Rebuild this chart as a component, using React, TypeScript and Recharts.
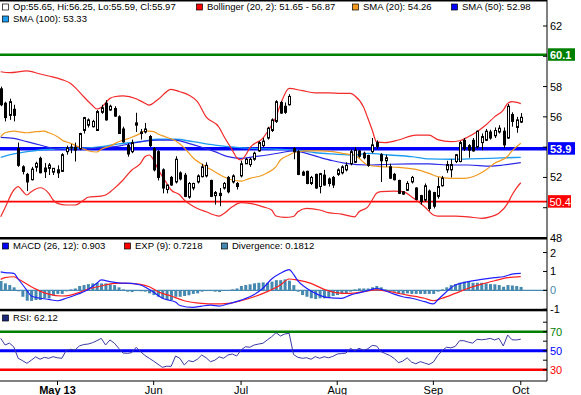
import React from 'react'
import { ComposedChart, Bar, Line, XAxis, YAxis, ReferenceLine } from 'recharts'

const FONT = '"Liberation Sans", Arial, sans-serif'
const TEAL = '#4689b0'

// index of first trading day of each month on the time axis
const monthTicks = [13, 35, 55, 77, 99, 119]
const monthLabels = ['May 13', 'Jun', 'Jul', 'Aug', 'Sep', 'Oct']

const opens = [
  57.85, 56.9, 56.1, 56.5, 53.9, 52.7, 52.2, 51.85, 52.67, 53.26,
  52.62, 52.6, 52.35, 52.5, 52.4, 53.7, 53.95, 54.0, 53.9, 55.1,
  55.45, 55.35, 55.1, 56.3, 56.9, 56.45, 56.55, 56.0, 55.2, 54.1,
  53.7, 55.45, 55.0, 55.0, 54.7, 53.9, 53.7, 52.5, 51.2, 52.0,
  51.7, 52.3, 52.15, 50.7, 51.3, 51.7, 52.05, 52.1, 51.8, 50.8,
  50.95, 51.3, 52.0, 51.7, 51.6, 52.1, 52.9, 52.85, 53.2, 53.75,
  54.1, 54.6, 55.1, 55.7, 56.95, 56.7, 56.8, 53.9, 53.7, 52.35,
  52.4, 51.6, 52.2, 51.4, 52.15, 51.9, 52.0, 52.2, 52.3, 52.5,
  52.9, 53.0, 53.75, 53.6, 53.45, 53.7, 54.3, 53.5, 53.1, 52.7,
  52.2, 51.8, 51.05, 51.15, 51.7, 51.3, 50.8, 50.5, 51.1, 51.0,
  50.75, 51.45, 52.5, 52.5, 53.05, 53.05, 54.45, 54.1, 54.45, 54.0,
  54.3, 54.45, 55.0, 54.75, 55.0, 55.05, 54.6, 56.15, 55.3, 55.65,
]
const highs = [
  58.0, 57.0, 57.2, 56.8, 54.3, 52.8, 52.3, 52.7, 53.04, 53.37,
  52.95, 52.95, 52.62, 52.8, 53.6, 54.1, 54.2, 54.3, 54.95, 56.0,
  55.9, 55.8, 56.45, 56.8, 57.1, 56.8, 56.7, 56.1, 55.35, 54.25,
  54.5, 56.27, 55.2, 55.6, 54.8, 54.0, 53.8, 52.6, 51.5, 52.1,
  53.4, 52.4, 52.3, 51.7, 51.65, 52.2, 52.9, 53.0, 51.85, 51.1,
  51.3, 51.7, 52.1, 52.2, 51.7, 53.1, 53.3, 53.3, 53.7, 54.4,
  54.6, 55.35, 55.9, 57.1, 57.05, 56.95, 57.5, 54.0, 53.8, 52.45,
  52.45, 52.1, 52.25, 52.3, 52.5, 52.0, 52.1, 52.6, 52.8, 53.0,
  53.85, 54.0, 53.8, 53.7, 53.5, 54.6, 54.45, 53.6, 53.5, 52.9,
  52.3, 51.85, 51.1, 51.75, 52.1, 51.35, 50.85, 51.6, 51.2, 51.05,
  52.0, 52.1, 53.1, 53.2, 53.55, 54.4, 54.6, 54.2, 54.6, 55.1,
  54.9, 55.2, 55.15, 55.3, 55.45, 55.3, 56.85, 56.3, 56.0, 56.25,
]
const lows = [
  56.7, 55.7, 55.8, 55.7, 52.7, 52.2, 51.1, 51.8, 52.38, 52.27,
  51.96, 52.16, 52.16, 51.96, 52.38, 53.5, 53.6, 53.05, 53.8, 54.9,
  55.3, 55.3, 55.1, 56.2, 55.75, 56.4, 56.0, 54.9, 54.3, 53.37,
  53.6, 55.0, 54.5, 54.9, 54.0, 52.4, 51.8, 50.95, 50.95, 51.45,
  51.6, 51.8, 50.7, 50.6, 51.15, 51.6, 52.0, 52.0, 50.7, 50.2,
  50.1, 51.2, 50.95, 51.6, 51.2, 52.0, 52.9, 52.7, 53.1, 53.7,
  54.0, 54.5, 55.0, 55.6, 56.2, 56.2, 56.75, 53.2, 52.15, 52.1,
  51.55, 51.5, 51.25, 50.95, 51.45, 51.4, 51.3, 52.1, 52.2, 52.4,
  52.8, 52.95, 53.3, 53.2, 52.7, 53.6, 53.9, 51.7, 52.7, 51.9,
  51.8, 50.9, 50.85, 51.1, 51.6, 50.5, 50.2, 50.4, 49.8, 49.95,
  50.6, 51.4, 52.3, 52.0, 52.95, 53.0, 53.75, 53.3, 53.7, 53.9,
  53.8, 54.4, 54.5, 54.6, 54.9, 53.95, 54.55, 55.35, 54.95, 55.59,
]
const closes = [
  56.8, 55.95, 57.0, 56.1, 52.8, 52.4, 51.7, 52.55, 52.93, 52.31,
  52.38, 52.82, 52.6, 52.3, 53.5, 53.95, 54.0, 53.8, 54.9, 55.95,
  55.8, 55.7, 56.35, 56.6, 55.8, 56.7, 56.05, 54.9, 54.35, 53.55,
  54.3, 55.6, 54.9, 55.2, 54.1, 52.5, 52.0, 51.3, 51.5, 51.5,
  53.2, 51.9, 50.75, 51.6, 51.6, 52.1, 52.7, 52.8, 50.75, 51.0,
  50.8, 51.6, 51.05, 52.1, 51.4, 52.9, 53.2, 53.2, 53.6, 54.3,
  54.4, 55.25, 55.8, 57.0, 56.25, 56.3, 57.35, 53.7, 52.2, 52.15,
  51.6, 52.0, 51.3, 52.25, 51.5, 51.6, 51.5, 52.5, 52.7, 52.8,
  53.7, 53.8, 53.4, 53.3, 52.8, 54.15, 54.05, 53.1, 53.3, 51.95,
  51.85, 50.95, 50.9, 51.6, 52.0, 50.55, 50.4, 51.45, 49.95, 50.1,
  51.4, 51.95, 52.85, 52.85, 53.5, 54.3, 53.9, 53.8, 53.75, 55.05,
  54.7, 55.05, 54.6, 55.1, 55.25, 54.15, 56.7, 55.7, 55.8, 55.97,
]

type Pt = [number, number]

const bollUpper: Pt[] = [
  [0, 58.98], [2, 58.92], [6, 59.03], [9, 58.83], [11, 58.7], [14, 58.46], [16, 58.2], [17, 57.95],
  [19, 57.33], [21, 56.75], [22, 56.52], [23, 56.62], [25, 57.22], [26, 57.33], [28, 57.38], [31, 57.2],
  [33, 56.9], [34, 56.78], [36, 57.15], [39, 57.82], [41, 57.66], [43, 57.45], [45, 57.0], [47, 56.0],
  [50, 55.3], [51, 54.75], [53, 53.8], [54, 53.3], [55, 53.15], [56, 53.45], [57, 53.95], [60, 54.6],
  [61, 55.0], [63, 56.0], [64, 56.8], [66, 57.88], [69, 57.73], [72, 57.59], [75, 57.59], [78, 57.55],
  [80, 57.55], [81, 57.4], [83, 56.67], [84, 55.92], [85, 55.13], [86, 54.35], [88, 54.3], [91, 54.47],
  [95, 54.8], [98, 54.8], [100, 54.5], [103, 54.36], [105, 54.42], [107, 54.69], [109, 55.02], [111, 55.46],
  [113, 56.0], [115, 56.45], [116, 56.89], [117, 57.0], [119, 56.87],
]
const bollLower: Pt[] = [
  [0, 49.4], [1, 50.0], [3, 51.17], [4, 51.39], [5, 51.1], [6, 50.84], [7, 51.06], [9, 51.32],
  [11, 50.95], [12, 50.51], [13, 50.29], [15, 50.18], [17, 50.18], [19, 50.51], [20, 50.69], [23, 50.77],
  [24, 50.84], [26, 51.28], [28, 51.83], [30, 52.49], [32, 52.93], [33, 53.37], [34, 53.48], [35, 53.15],
  [36, 52.55], [38, 51.61], [39, 51.17], [41, 50.84], [42, 50.51], [44, 50.1], [47, 49.73], [50, 49.45],
  [51, 49.6], [53, 50.06], [55, 50.33], [57, 50.29], [60, 50.06], [62, 49.85], [63, 49.45], [65, 49.36],
  [67, 49.42], [68, 49.73], [70, 49.96], [73, 49.85], [75, 49.67], [78, 49.58], [81, 49.4], [82, 49.73],
  [84, 50.06], [85, 50.51], [86, 50.95], [87, 51.06], [90, 51.1], [92, 51.06], [94, 50.73], [97, 50.06],
  [99, 49.52], [100, 49.45], [104, 49.45], [107, 49.4], [110, 49.3], [112, 49.4], [114, 49.63], [116, 50.29],
  [117, 50.84], [118, 51.3], [119, 51.65],
]
const sma20: Pt[] = [
  [0, 54.69], [1, 54.95], [3, 55.06], [4, 55.02], [6, 54.95], [8, 55.02], [10, 55.06], [11, 54.95],
  [13, 54.69], [14, 54.47], [16, 54.25], [18, 53.99], [20, 53.76], [22, 53.68], [23, 53.86], [25, 54.07],
  [27, 54.36], [30, 54.65], [32, 54.91], [33, 55.08], [35, 55.02], [36, 54.87], [38, 54.65], [40, 54.42],
  [42, 53.95], [44, 53.3], [47, 52.71], [49, 52.38], [51, 52.05], [53, 51.83], [55, 51.76], [57, 51.94],
  [60, 52.16], [61, 52.31], [63, 52.71], [64, 53.15], [66, 53.48], [67, 53.63], [70, 53.76], [73, 53.76],
  [76, 53.7], [79, 53.55], [81, 53.48], [82, 53.26], [84, 52.82], [87, 52.71], [91, 52.67], [95, 52.53],
  [98, 52.27], [100, 52.05], [103, 51.94], [106, 51.94], [109, 52.16], [111, 52.49], [113, 52.93], [116, 53.4],
  [117, 53.75], [119, 54.26],
]
const sma50: Pt[] = [
  [0, 54.65], [3, 54.58], [6, 54.36], [9, 54.14], [12, 53.92], [15, 53.86], [18, 53.86], [21, 53.92],
  [24, 53.99], [27, 54.07], [30, 54.25], [33, 54.4], [36, 54.47], [40, 54.47], [43, 54.25], [46, 53.99],
  [49, 53.7], [52, 53.37], [55, 53.26], [58, 53.37], [61, 53.48], [64, 53.63], [67, 53.76], [70, 53.59],
  [73, 53.33], [76, 53.1], [79, 52.93], [84, 52.82], [89, 52.87], [94, 52.89], [98, 52.89], [103, 52.82],
  [107, 52.82], [112, 52.75], [115, 52.82], [119, 52.98],
]
const sma100: Pt[] = [
  [0, 53.33], [3, 53.55], [6, 53.7], [9, 53.81], [12, 53.86], [15, 53.92], [18, 53.92], [23, 54.03],
  [27, 54.21], [32, 54.36], [36, 54.52], [40, 54.52], [44, 54.36], [49, 54.14], [54, 53.99], [58, 53.92],
  [63, 53.86], [67, 53.81], [72, 53.63], [76, 53.55], [81, 53.48], [84, 53.59], [89, 53.48], [94, 53.37],
  [98, 53.22], [103, 53.2], [107, 53.22], [112, 53.26], [116, 53.3], [119, 53.33],
]

// horizontal levels on the price panel
const priceLevels = [60.1, 53.9, 50.4]

const macdPts: Pt[] = [
  [0, 0.98], [1, 0.94], [3, 0.9], [4, 0.6], [6, 0.0], [7, -0.3], [9, -0.42], [11, -0.48], [13, -0.55],
  [15, -0.42], [17, -0.26], [20, 0.05], [22, 0.37], [23, 0.55], [25, 0.46], [27, 0.4], [30, 0.37],
  [32, 0.28], [33, 0.18], [35, -0.1], [37, -0.42], [40, -0.62], [41, -0.8], [44, -0.9], [46, -0.83],
  [48, -0.78], [50, -0.83], [52, -0.72], [55, -0.52], [58, -0.22], [60, 0.11], [62, 0.6], [64, 0.9],
  [66, 1.1], [67, 0.85], [68, 0.5], [70, 0.11], [72, -0.16], [75, -0.39], [78, -0.42], [80, -0.25],
  [82, -0.13], [85, 0.05], [86, 0.11], [88, -0.02], [90, -0.2], [92, -0.34], [94, -0.42], [97, -0.6],
  [99, -0.72], [100, -0.51], [102, -0.07], [104, 0.28], [107, 0.46], [110, 0.58], [113, 0.67], [115, 0.72],
  [117, 0.86], [119, 0.903],
]
const signalPts: Pt[] = [
  [0, 0.58], [1, 0.67], [3, 0.72], [4, 0.6], [7, 0.19], [9, -0.04], [11, -0.2], [14, -0.3], [16, -0.25],
  [18, -0.11], [20, 0.07], [23, 0.23], [26, 0.37], [29, 0.37], [32, 0.32], [34, 0.19], [36, -0.07],
  [39, -0.3], [42, -0.55], [46, -0.69], [49, -0.72], [52, -0.69], [55, -0.55], [58, -0.34], [61, -0.07],
  [64, 0.28], [66, 0.6], [68, 0.54], [71, 0.37], [74, 0.05], [77, -0.13], [80, -0.16], [83, -0.07],
  [86, 0.02], [89, -0.07], [93, -0.25], [97, -0.42], [99, -0.55], [101, -0.42], [104, -0.16], [107, 0.11],
  [110, 0.33], [113, 0.51], [116, 0.67], [119, 0.7218],
]
const divergence = [
  0.5, 0.37, 0.28, 0.16, -0.05, -0.34, -0.55, -0.56, -0.51, -0.51,
  -0.42, -0.42, -0.28, -0.19, -0.19, -0.05, 0.05, 0.1, 0.23, 0.28,
  0.33, 0.37, 0.4, 0.37, 0.37, 0.32, 0.28, 0.16, 0.05, -0.07,
  -0.09, -0.04, -0.05, -0.07, -0.16, -0.25, -0.34, -0.42, -0.51, -0.51,
  -0.34, -0.34, -0.3, -0.26, -0.19, -0.16, -0.07, -0.04, -0.04, -0.07,
  -0.09, -0.02, 0.01, 0.05, 0.1, 0.23, 0.28, 0.32, 0.37, 0.4,
  0.42, 0.4, 0.46, 0.54, 0.54, 0.58, 0.51, 0.28, -0.07, -0.25,
  -0.34, -0.42, -0.46, -0.42, -0.42, -0.39, -0.3, -0.25, -0.19, -0.16,
  -0.07, 0.05, 0.1, 0.1, 0.1, 0.16, 0.23, 0.16, 0.05, -0.04,
  -0.07, -0.16, -0.19, -0.16, -0.19, -0.19, -0.19, -0.19, -0.19, -0.19,
  -0.07, 0.05, 0.16, 0.28, 0.33, 0.4, 0.46, 0.46, 0.4, 0.4,
  0.4, 0.37, 0.33, 0.32, 0.28, 0.19, 0.28, 0.25, 0.23, 0.1812,
]
const rsi = [
  63, 56, 58, 54, 42, 39.5, 36.7, 40, 43.5, 41,
  43, 42, 43.7, 42.5, 42, 50.5, 51.5, 50.7, 55, 56.5,
  57, 58.4, 60.5, 63, 56, 61.3, 58, 52.5, 47.5, 47.2,
  48, 53.6, 49, 45, 42, 39, 35.7, 32.5, 33.7, 33.5,
  44.4, 42, 35, 39.5, 38.4, 41, 45.5, 42.6, 38.4, 40,
  43.5, 42, 45.5, 46.5, 44.4, 50.7, 54.2, 53.6, 56, 57,
  57.8, 61.3, 64.7, 69, 65.5, 67.6, 68.3, 46, 43, 42,
  42.6, 41, 43.7, 42, 43.7, 42.5, 44, 46.5, 47, 47.5,
  52.5, 50, 52.5, 50.5, 52, 55.5, 55, 49, 47, 45,
  42, 37.4, 39, 42.5, 38, 36.2, 38.5, 37, 35.5, 38,
  45, 50, 53.6, 53, 54.5, 60.5, 60.5, 59, 58, 62,
  61.5, 62, 63, 61.3, 63, 55, 66.5, 61.5, 61.3, 62.12,
]
const rsiLevels = [70, 50, 30]

const X_DOMAIN: [number, number] = [-0.16, 125]
const L = closes.length - 1
const last = (p: Pt[]) => p[p.length - 1][1]
const toRows = (p: Pt[]) => p.map(([i, v]) => ({ i, v }))

const candleRows = opens.map((o, i) => ({
  i, o, h: highs[i], l: lows[i], c: closes[i], range: [lows[i], highs[i]],
}))
const divRows = divergence.map((d, i) => ({ i, d }))
const rsiRows = rsi.map((r, i) => ({ i, r }))

const Candle = (props: any) => {
  const { x, y, width, height, payload } = props
  if (!payload || height == null) return null
  const { o, h, l, c } = payload
  const top = Math.min(y, y + height)
  const span = Math.abs(height)
  const py = (v: number) => top + ((h - v) / (h - l || 1)) * span
  const cx = Math.round(x + width / 2)
  const y1 = py(Math.max(o, c))
  const y2 = py(Math.min(o, c))
  return (
    <g>
      <line x1={cx + 0.5} x2={cx + 0.5} y1={top} y2={top + span} stroke="#000" strokeWidth={1} />
      <rect x={cx - 0.5} y={y1} width={2} height={Math.max(0.8, y2 - y1)}
        fill={c >= o ? '#fff' : '#000'} stroke="#000" strokeWidth={1} />
    </g>
  )
}

const AxisTick = (props: any) => {
  const { x, y, payload, hidden = [], colors = {} } = props
  const v = payload.value
  return (
    <g>
      <line x1={x - 4} x2={x} y1={y} y2={y} stroke="#000" />
      {!hidden.includes(v) && (
        <text x={x + 3} y={y} dy="0.36em" fontSize={11} fontFamily={FONT} fill={colors[v] ?? '#000'}>{v}</text>
      )}
    </g>
  )
}

const MonthTick = (props: any) => {
  const { x, y, payload } = props
  const k = monthTicks.indexOf(payload.value)
  return (
    <text x={x} y={y} dy={7} textAnchor="middle" fontSize={11} fontFamily={FONT}
      fontWeight={k === 0 ? 'bold' : 'normal'} fill="#000">{monthLabels[k]}</text>
  )
}

const ValueTag = (props: any) => {
  const { viewBox, text, fill, bold } = props
  if (!viewBox) return null
  const x = viewBox.x + viewBox.width + 1
  const y = viewBox.y
  const w = bold ? 27 : 23
  return (
    <g>
      <rect x={x} y={y - 6.5} width={w} height={12.5} fill={fill} />
      <text x={x + (bold ? 2 : 1.5)} y={y} dy="0.36em" fontSize={11} fontFamily={FONT}
        fontWeight={bold ? 'bold' : 'normal'} fill="#fff">{text}</text>
    </g>
  )
}

const LegendItem = ({ x, y, color, text }: { x: number; y: number; color: string; text: string }) => (
  <g>
    <rect x={x + 0.5} y={y - 3} width={6} height={6} fill={color} stroke="#000" strokeWidth={0.7} />
    <text x={x + 11} y={y} dy="0.35em" fontSize={9.5} fontFamily={FONT} fill="#000">{text}</text>
  </g>
)

const levelStyle = [
  { stroke: '#008000', width: 2.5, bold: true },
  { stroke: '#0000ff', width: 3.5, bold: true },
  { stroke: '#ff0000', width: 1.8, bold: false },
]
const rsiStyle = [
  { stroke: '#008000', width: 2.5 },
  { stroke: '#0000ff', width: 3 },
  { stroke: '#ff0000', width: 2.5 },
]

export default function App() {
  return (
    <div style={{ position: 'absolute', left: 0, top: 0, width: 581, height: 395, background: '#fff', overflow: 'hidden' }}>
      <div style={{ position: 'absolute', left: 0, top: 0 }}>
        <ComposedChart width={581} height={250} data={candleRows} margin={{ top: 0, right: 0, bottom: 12, left: 0 }}>
          <XAxis type="number" dataKey="i" domain={X_DOMAIN} allowDataOverflow hide />
          <YAxis orientation="right" width={34} type="number" domain={[48, 63.717]} allowDataOverflow
            ticks={[48, 50, 52, 54, 56, 58, 60, 62]} interval={0} tickSize={0} tickMargin={0}
            axisLine={{ stroke: '#000' }} tickLine={false} tick={<AxisTick hidden={[50, 54, 60]} />} />
          {priceLevels.map((v, k) => (
            <ReferenceLine key={v} y={v} stroke={levelStyle[k].stroke} strokeWidth={levelStyle[k].width}
              label={(p: any) => <ValueTag {...p} text={v.toFixed(1)} fill={levelStyle[k].stroke} bold={levelStyle[k].bold} />} />
          ))}
          <Line data={toRows(sma100)} dataKey="v" type="monotone" stroke="#1e9cf0" strokeWidth={1.3} dot={false} activeDot={false} isAnimationActive={false} />
          <Line data={toRows(sma50)} dataKey="v" type="monotone" stroke="#2a2ae6" strokeWidth={1.2} dot={false} activeDot={false} isAnimationActive={false} />
          <Line data={toRows(sma20)} dataKey="v" type="monotone" stroke="#f29a1f" strokeWidth={1.2} dot={false} activeDot={false} isAnimationActive={false} />
          <Line data={toRows(bollUpper)} dataKey="v" type="monotone" stroke="#f22a2a" strokeWidth={1.2} dot={false} activeDot={false} isAnimationActive={false} />
          <Line data={toRows(bollLower)} dataKey="v" type="monotone" stroke="#f22a2a" strokeWidth={1.2} dot={false} activeDot={false} isAnimationActive={false} />
          <Bar dataKey="range" barSize={3} shape={(p: any) => <Candle {...p} />} isAnimationActive={false} zIndex={450} />
        </ComposedChart>
      </div>

      <div style={{ position: 'absolute', left: 0, top: 238 }}>
        <ComposedChart width={581} height={82} data={divRows} margin={{ top: 0, right: 0, bottom: 10, left: 0 }}>
          <XAxis type="number" dataKey="i" domain={X_DOMAIN} allowDataOverflow hide />
          <YAxis orientation="right" width={34} type="number" domain={[-1.04, 2.77]} allowDataOverflow
            ticks={[-1, 0, 1, 2]} interval={0} tickSize={0} tickMargin={0}
            axisLine={{ stroke: '#000' }} tickLine={false} tick={<AxisTick colors={{ 0: TEAL }} />} />
          <ReferenceLine y={0} stroke={TEAL} strokeWidth={1.2} />
          <Bar dataKey="d" fill={TEAL} barSize={3} isAnimationActive={false} />
          <Line data={toRows(signalPts)} dataKey="v" type="monotone" stroke="#ff2020" strokeWidth={1.2} dot={false} activeDot={false} isAnimationActive={false} />
          <Line data={toRows(macdPts)} dataKey="v" type="monotone" stroke="#2020ff" strokeWidth={1.2} dot={false} activeDot={false} isAnimationActive={false} />
        </ComposedChart>
      </div>

      <div style={{ position: 'absolute', left: 0, top: 310 }}>
        <ComposedChart width={581} height={85} data={rsiRows} margin={{ top: 0, right: 0, bottom: 0, left: 0 }}>
          <XAxis type="number" dataKey="i" domain={X_DOMAIN} allowDataOverflow ticks={monthTicks} interval={0}
            height={14} tickSize={4} axisLine={{ stroke: '#000' }} tickLine={{ stroke: '#000' }} tick={<MonthTick />} />
          <YAxis orientation="right" width={34} type="number" domain={[18.1, 92.84]} allowDataOverflow
            ticks={[30, 40, 50, 60, 70, 80]} interval={0} tickSize={0} tickMargin={0}
            axisLine={{ stroke: '#000' }} tickLine={false}
            tick={<AxisTick hidden={[40, 60, 80]} colors={{ 70: '#008000', 50: '#0000ff', 30: '#ff0000' }} />} />
          {rsiLevels.map((v, k) => (
            <ReferenceLine key={v} y={v} stroke={rsiStyle[k].stroke} strokeWidth={rsiStyle[k].width} />
          ))}
          <Line dataKey="r" type="linear" stroke="#3a3aa6" strokeWidth={1} dot={false} activeDot={false} isAnimationActive={false} />
        </ComposedChart>
      </div>

      <svg width={581} height={395} style={{ position: 'absolute', left: 0, top: 0, pointerEvents: 'none' }}>
        <rect x={0} y={0} width={547} height={1.5} fill="#000" />
        <rect x={0} y={237} width={547} height={2.5} fill="#000" />
        <rect x={0} y={308.8} width={547} height={2.5} fill="#000" />
        <LegendItem x={2} y={7} color="#fff"
          text={`Op:${opens[L]}, Hi:${highs[L]}, Lo:${lows[L]}, Cl:${closes[L]}`} />
        <LegendItem x={196} y={7} color="#ff0000" text={`Bollinger (20, 2): ${last(bollLower)} - ${last(bollUpper)}`} />
        <LegendItem x={352} y={7} color="#f29a1f" text={`SMA (20): ${last(sma20)}`} />
        <LegendItem x={451} y={7} color="#0000ff" text={`SMA (50): ${last(sma50)}`} />
        <LegendItem x={2} y={19} color="#1e9cf0" text={`SMA (100): ${last(sma100)}`} />
        <LegendItem x={2} y={246} color="#0000ff" text={`MACD (26, 12): ${last(macdPts)}`} />
        <LegendItem x={124} y={246} color="#ff0000" text={`EXP (9): ${last(signalPts)}`} />
        <LegendItem x={221} y={246} color={TEAL} text={`Divergence: ${divergence[L]}`} />
        <LegendItem x={2} y={318} color="#1c2a7c" text={`RSI: ${rsi[L]}`} />
      </svg>
    </div>
  )
}
